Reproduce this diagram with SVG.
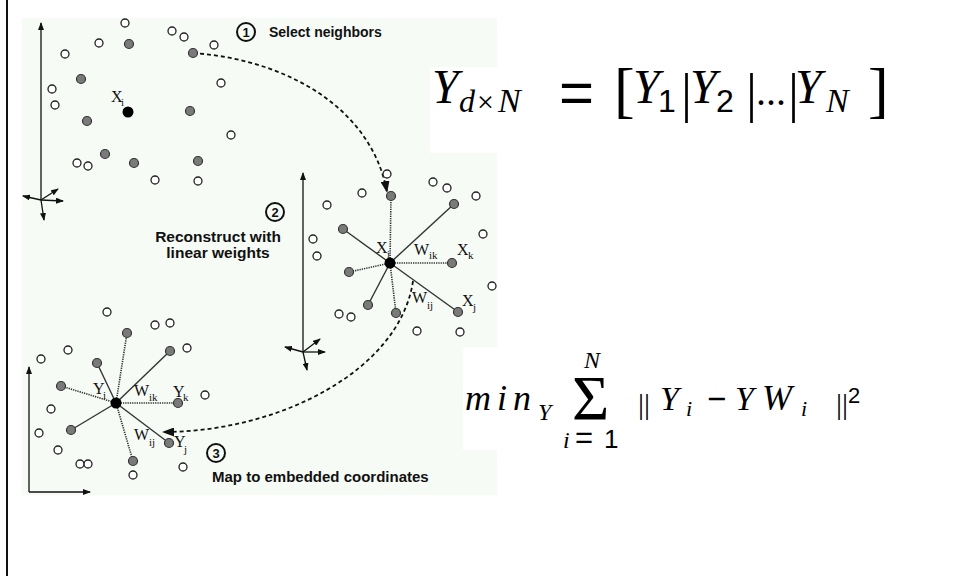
<svg xmlns="http://www.w3.org/2000/svg" width="957" height="576" viewBox="0 0 957 576">
<style>
.o{fill:#fff;stroke:#222;stroke-width:1.3}
.g{fill:#7a7a7a;stroke:#333;stroke-width:1.2}
.c{fill:#000}
.sl{stroke:#333;stroke-width:1.4;fill:none}
.dl{stroke:#333;stroke-width:1.6;fill:none;stroke-dasharray:1.3 1}
.ax{stroke:#111;stroke-width:1.3;fill:none;marker-end:url(#ah)}
.dash{stroke:#111;stroke-width:1.8;fill:none;stroke-dasharray:4 3;marker-end:url(#big)}
.lb{font-family:"Liberation Serif",serif;font-size:16px;fill:#111}
.sb{font-size:11px}
.bt{font-family:"Liberation Sans",Arial,sans-serif;font-weight:bold;fill:#111}
.num{fill:none;stroke:#111;stroke-width:2}
.fm{font-family:"Liberation Serif",serif;fill:#000}
.i{font-style:italic}
.s{font-family:"Liberation Sans",Arial,sans-serif}
</style>
<defs>
<marker id="ah" markerUnits="userSpaceOnUse" markerWidth="8" markerHeight="6" refX="7" refY="3" orient="auto"><path d="M0,0 L8,3 L0,6 z" fill="#111"/></marker>
<marker id="big" markerUnits="userSpaceOnUse" markerWidth="12" markerHeight="9" refX="11" refY="4.5" orient="auto"><path d="M0,0 L12,4.5 L0,9 z" fill="#111"/></marker>
</defs>
<rect width="957" height="576" fill="#fff"/>
<line x1="7" y1="0" x2="7" y2="576" stroke="#111" stroke-width="2"/>
<rect id="panel" x="22" y="18" width="475" height="477" fill="#f6fbf6"/>
<rect x="430" y="67" width="527" height="86" fill="#fff"/>
<rect x="463" y="347" width="494" height="103" fill="#fff"/>

<g id="connectors">
<path class="dash" d="M193,53 C290,60 372,110 387,192"/>
<path class="dash" d="M413,281 C400,370 280,432 163,432"/>
</g>

<g id="panel1">
<line class="ax" x1="41" y1="200" x2="41" y2="23"/>
<line class="ax" x1="41" y1="200" x2="23" y2="196"/>
<line class="ax" x1="41" y1="200" x2="63" y2="201"/>
<line class="ax" x1="41" y1="200" x2="58" y2="189"/>
<line class="ax" x1="41" y1="200" x2="44" y2="220"/>
<circle class="o" cx="125" cy="23" r="4"/><circle class="o" cx="172" cy="31" r="4"/><circle class="o" cx="184" cy="37" r="4"/>
<circle class="o" cx="99" cy="43" r="4"/><circle class="o" cx="65" cy="54" r="4"/><circle class="o" cx="214" cy="45" r="4"/>
<circle class="o" cx="221" cy="83" r="4"/><circle class="o" cx="52" cy="89" r="4"/><circle class="o" cx="55" cy="105" r="4"/>
<circle class="o" cx="231" cy="135" r="4"/><circle class="o" cx="77" cy="163" r="4"/><circle class="o" cx="88" cy="166" r="4"/>
<circle class="o" cx="155" cy="180" r="4"/><circle class="o" cx="198" cy="181" r="4"/>
<circle class="g" cx="129" cy="44" r="4.5"/><circle class="g" cx="193" cy="53" r="4.5"/><circle class="g" cx="81" cy="79" r="4.5"/>
<circle class="g" cx="87" cy="121" r="4.5"/><circle class="g" cx="190" cy="111" r="4.5"/><circle class="g" cx="105" cy="154" r="4.5"/>
<circle class="g" cx="134" cy="163" r="4.5"/><circle class="g" cx="198" cy="161" r="4.5"/>
<circle class="c" cx="128" cy="112" r="5.5"/>
<text class="lb" x="111" y="102" font-size="14">X<tspan class="sb" x="121" y="106" font-size="10">i</tspan></text>
</g>

<g id="step1">
<circle class="num" cx="246" cy="32" r="9"/>
<text class="bt" x="246" y="37" font-size="13" text-anchor="middle">1</text>
<text class="bt" x="269" y="37" font-size="14">Select neighbors</text>
</g>

<g id="panel2">
<line class="ax" x1="303" y1="352" x2="303" y2="173"/>
<line class="ax" x1="303" y1="352" x2="285" y2="347"/>
<line class="ax" x1="303" y1="352" x2="325" y2="352"/>
<line class="ax" x1="303" y1="352" x2="320" y2="339"/>
<line class="ax" x1="303" y1="352" x2="307" y2="370"/>
<line class="dl" x1="390" y1="263" x2="391" y2="196"/>
<line class="sl" x1="390" y1="263" x2="454" y2="204"/>
<line class="sl" x1="390" y1="263" x2="343" y2="229"/>
<line class="dl" x1="390" y1="263" x2="452" y2="263"/>
<line class="dl" x1="390" y1="263" x2="349" y2="272"/>
<line class="sl" x1="390" y1="263" x2="368" y2="305"/>
<line class="dl" x1="390" y1="263" x2="396" y2="313"/>
<line class="sl" x1="390" y1="263" x2="458" y2="312"/>
<circle class="o" cx="387" cy="174" r="4"/><circle class="o" cx="362" cy="193" r="4"/><circle class="o" cx="433" cy="182" r="4"/>
<circle class="o" cx="447" cy="188" r="4"/><circle class="o" cx="476" cy="196" r="4"/><circle class="o" cx="327" cy="205" r="4"/>
<circle class="o" cx="483" cy="234" r="4"/><circle class="o" cx="313" cy="239" r="4"/><circle class="o" cx="317" cy="256" r="4"/>
<circle class="o" cx="492" cy="286" r="4"/><circle class="o" cx="339" cy="314" r="4"/><circle class="o" cx="351" cy="317" r="4"/>
<circle class="o" cx="417" cy="331" r="4"/><circle class="o" cx="460" cy="332" r="4"/>
<circle class="g" cx="391" cy="196" r="4.5"/><circle class="g" cx="454" cy="204" r="4.5"/><circle class="g" cx="343" cy="229" r="4.5"/>
<circle class="g" cx="452" cy="263" r="4.5"/><circle class="g" cx="349" cy="272" r="4.5"/><circle class="g" cx="368" cy="305" r="4.5"/>
<circle class="g" cx="396" cy="313" r="4.5"/><circle class="g" cx="458" cy="312" r="4.5"/>
<circle class="c" cx="390" cy="263" r="5.5"/>
<text class="lb" x="376" y="253">X<tspan class="sb" x="387" y="258">i</tspan></text>
<text class="lb" x="414" y="255">W<tspan class="sb" x="429" y="259">ik</tspan></text>
<text class="lb" x="457" y="255">X<tspan class="sb" x="468" y="259">k</tspan></text>
<text class="lb" x="412" y="303">W<tspan class="sb" x="427" y="309">ij</tspan></text>
<text class="lb" x="462" y="306">X<tspan class="sb" x="473" y="311">j</tspan></text>
</g>

<g id="step2">
<circle class="num" cx="275" cy="212" r="9"/>
<text class="bt" x="275" y="217" font-size="13" text-anchor="middle">2</text>
<text class="bt" x="218" y="242" font-size="15.5" text-anchor="middle">Reconstruct with</text>
<text class="bt" x="218" y="258" font-size="15.5" text-anchor="middle">linear weights</text>
</g>

<g id="panel3">
<path d="M29,492 L29,367" class="ax"/>
<path d="M29,492 L90,492" class="ax"/>
<line class="dl" x1="116" y1="403" x2="127" y2="333"/>
<line class="sl" x1="116" y1="403" x2="170" y2="351"/>
<line class="sl" x1="116" y1="403" x2="97" y2="363"/>
<line class="dl" x1="116" y1="403" x2="61" y2="386"/>
<line class="dl" x1="116" y1="403" x2="178" y2="403"/>
<line class="sl" x1="116" y1="403" x2="71" y2="430"/>
<line class="sl" x1="116" y1="403" x2="169" y2="443"/>
<line class="dl" x1="116" y1="403" x2="133" y2="461"/>
<circle class="o" cx="107" cy="312" r="4"/><circle class="o" cx="155" cy="325" r="4"/><circle class="o" cx="170" cy="323" r="4"/>
<circle class="o" cx="68" cy="350" r="4"/><circle class="o" cx="41" cy="359" r="4"/><circle class="o" cx="187" cy="348" r="4"/>
<circle class="o" cx="205" cy="395" r="4"/><circle class="o" cx="51" cy="409" r="4"/><circle class="o" cx="39" cy="433" r="4"/>
<circle class="o" cx="58" cy="450" r="4"/><circle class="o" cx="80" cy="464" r="4"/><circle class="o" cx="88" cy="464" r="4"/>
<circle class="o" cx="133" cy="475" r="4"/><circle class="o" cx="183" cy="467" r="4"/>
<circle class="g" cx="127" cy="333" r="4.5"/><circle class="g" cx="170" cy="351" r="4.5"/><circle class="g" cx="97" cy="363" r="4.5"/>
<circle class="g" cx="61" cy="386" r="4.5"/><circle class="g" cx="178" cy="403" r="4.5"/><circle class="g" cx="71" cy="430" r="4.5"/>
<circle class="g" cx="169" cy="443" r="4.5"/><circle class="g" cx="133" cy="461" r="4.5"/>
<circle class="c" cx="116" cy="403" r="5.5"/>
<text class="lb" x="93" y="394">Y<tspan class="sb" x="103" y="399">i</tspan></text>
<text class="lb" x="134" y="396">W<tspan class="sb" x="149" y="401">ik</tspan></text>
<text class="lb" x="173" y="397">Y<tspan class="sb" x="183" y="401">k</tspan></text>
<text class="lb" x="134" y="440">W<tspan class="sb" x="149" y="446">ij</tspan></text>
<text class="lb" x="174" y="447">Y<tspan class="sb" x="184" y="453">j</tspan></text>
</g>

<g id="step3">
<circle class="num" cx="216" cy="453" r="9"/>
<text class="bt" x="216" y="458" font-size="13" text-anchor="middle">3</text>
<text class="bt" x="212" y="482" font-size="15">Map to embedded coordinates</text>
</g>

<g id="formula1">
<text class="fm" font-size="48"><tspan class="i" x="432" y="103">Y</tspan><tspan class="i" x="459" y="112" font-size="32">d</tspan><tspan x="477" y="112" font-size="30">×</tspan><tspan class="i" x="498" y="112" font-size="34">N</tspan><tspan class="s" x="559" y="113" font-size="60">=</tspan><tspan x="614" y="111" font-size="62">[</tspan><tspan class="i" x="633" y="103">Y</tspan><tspan class="s" x="658" y="112" font-size="32">1</tspan><tspan x="681" y="111" font-size="55">|</tspan><tspan class="i" x="690" y="103">Y</tspan><tspan class="s" x="716" y="112" font-size="32">2</tspan><tspan x="746" y="111" font-size="55">|</tspan><tspan x="756" y="105" font-size="40">...</tspan><tspan x="788" y="111" font-size="55">|</tspan><tspan class="i" x="795" y="103">Y</tspan><tspan class="i" x="826" y="112" font-size="34">N</tspan><tspan x="868" y="111" font-size="62">]</tspan></text>
</g>

<g id="formula2">
<text class="fm" font-size="34"><tspan class="i" x="465" y="410" font-size="36" letter-spacing="6">min</tspan><tspan class="i" x="538" y="420" font-size="24">Y</tspan><tspan x="572" y="420" font-size="64">Σ</tspan><tspan class="i" x="584" y="368" font-size="24">N</tspan><tspan class="i" x="563" y="448" font-size="24">i</tspan><tspan class="s" x="575" y="448" font-size="31">=</tspan><tspan class="s" x="604" y="448" font-size="26">1</tspan><tspan x="638" y="414" font-size="30">||</tspan><tspan class="i" x="660" y="410">Y</tspan><tspan class="i" x="686" y="416" font-size="22">i</tspan><tspan class="s" x="707" y="410" font-size="33">−</tspan><tspan class="i" x="735" y="410">Y</tspan><tspan class="i" x="762" y="410" font-size="36">W</tspan><tspan class="i" x="801" y="416" font-size="22">i</tspan><tspan x="836" y="414" font-size="30">||</tspan><tspan class="s" x="848" y="403" font-size="22">2</tspan></text>
</g>
</svg>
